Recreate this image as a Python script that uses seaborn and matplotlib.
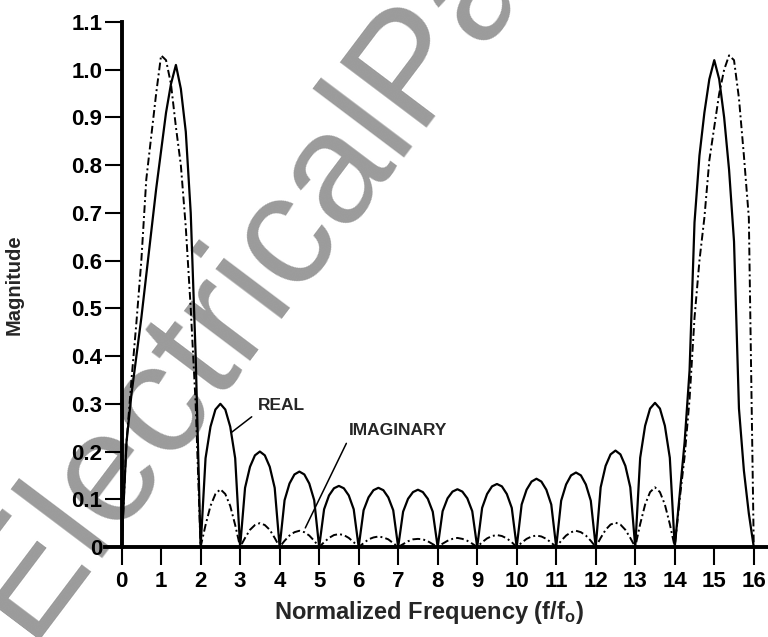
import numpy as np
import pandas as pd
import seaborn as sns
import matplotlib.pyplot as plt

sns.set_theme(style="ticks")
plt.rcParams['font.family'] = ['Liberation Sans', 'DejaVu Sans']
plt.rcParams['mathtext.fontset'] = 'custom'
plt.rcParams['mathtext.rm'] = 'Liberation Sans:bold'
plt.rcParams['mathtext.it'] = 'Liberation Sans:bold'
plt.rcParams['mathtext.bf'] = 'Liberation Sans:bold'

# sample positions (f/fo), every 1/8
freq = np.arange(0, 16.0625, 0.125)

# magnitudes, one row per unit of f/fo
real_mag = [
    0, 0.22, 0.32, 0.40, 0.48, 0.57, 0.66, 0.75,
    0.83, 0.91, 0.97, 1.01, 0.96, 0.87, 0.70, 0.40,
    0, 0.186, 0.252, 0.288, 0.300, 0.288, 0.252, 0.186,
    0, 0.124, 0.168, 0.192, 0.200, 0.192, 0.168, 0.124,
    0, 0.098, 0.133, 0.152, 0.158, 0.152, 0.133, 0.098,
    0, 0.079, 0.108, 0.123, 0.128, 0.123, 0.108, 0.079,
    0, 0.077, 0.104, 0.119, 0.124, 0.119, 0.104, 0.077,
    0, 0.074, 0.101, 0.115, 0.120, 0.115, 0.101, 0.074,
    0, 0.075, 0.102, 0.116, 0.121, 0.116, 0.102, 0.075,
    0, 0.082, 0.111, 0.127, 0.132, 0.127, 0.111, 0.082,
    0, 0.089, 0.120, 0.137, 0.143, 0.137, 0.120, 0.089,
    0, 0.097, 0.131, 0.150, 0.156, 0.150, 0.131, 0.097,
    0, 0.125, 0.170, 0.194, 0.202, 0.194, 0.170, 0.125,
    0, 0.187, 0.254, 0.290, 0.302, 0.290, 0.254, 0.187,
    0, 0.11, 0.22, 0.37, 0.68, 0.82, 0.91, 0.98,
    1.02, 0.98, 0.90, 0.79, 0.64, 0.29, 0.16, 0.07,
    0,
]

imag_mag = [
    0, 0.22, 0.35, 0.47, 0.60, 0.77, 0.86, 0.95,
    1.03, 1.02, 0.97, 0.88, 0.80, 0.67, 0.50, 0.30,
    0, 0.046, 0.086, 0.111, 0.121, 0.111, 0.086, 0.046,
    0, 0.019, 0.036, 0.046, 0.050, 0.046, 0.036, 0.019,
    0, 0.013, 0.024, 0.031, 0.034, 0.031, 0.024, 0.013,
    0, 0.010, 0.019, 0.025, 0.027, 0.025, 0.019, 0.010,
    0, 0.008, 0.016, 0.020, 0.022, 0.020, 0.016, 0.008,
    0, 0.006, 0.012, 0.016, 0.017, 0.016, 0.012, 0.006,
    0, 0.007, 0.013, 0.017, 0.019, 0.017, 0.013, 0.007,
    0, 0.010, 0.018, 0.023, 0.025, 0.023, 0.018, 0.010,
    0, 0.009, 0.017, 0.022, 0.024, 0.022, 0.017, 0.009,
    0, 0.013, 0.024, 0.031, 0.034, 0.031, 0.024, 0.013,
    0, 0.019, 0.036, 0.047, 0.051, 0.047, 0.036, 0.019,
    0, 0.048, 0.089, 0.115, 0.125, 0.115, 0.089, 0.048,
    0, 0.10, 0.19, 0.31, 0.48, 0.60, 0.69, 0.81,
    0.88, 0.95, 1.00, 1.03, 1.02, 0.94, 0.82, 0.69,
    0,
]

x_ticks = list(range(17))
y_ticks = [0, 0.1, 0.2, 0.3, 0.4, 0.5, 0.6, 0.7, 0.8, 0.9, 1.0, 1.1]
y_labels = ["0", "0.1", "0.2", "0.3", "0.4", "0.5", "0.6", "0.7", "0.8", "0.9", "1.0", "1.1"]

df = pd.DataFrame({"freq": freq, "Real": real_mag, "Imaginary": imag_mag})

fig = plt.figure(figsize=(7.68, 6.37), dpi=100)
# watermark behind the chart
fig.text(0.036, -0.004, "ElectricalPartManuals.com", rotation=53, rotation_mode="anchor",
         ha="left", va="baseline", fontsize=114, color="#9b9b9b", zorder=-1)

ax = fig.add_axes([0.1367, 0.1413, 0.8633, 0.8242])
ax.patch.set_alpha(0)

sns.lineplot(data=df, x="freq", y="Real", color="black", linewidth=1.6, ax=ax)
sns.lineplot(data=df, x="freq", y="Imaginary", color="black", linewidth=1.4,
             linestyle=(0, (4, 1.6, 1, 1.6)), ax=ax)

ax.set_xlim(-0.42, 16.36)
ax.set_ylim(0, 1.1)
sns.despine(ax=ax)
ax.spines["left"].set_position(("data", 0))
ax.spines["left"].set_linewidth(2.8)
ax.spines["bottom"].set_linewidth(2.8)
ax.spines["left"].set_color("black")
ax.spines["bottom"].set_color("black")

ax.set_xticks(x_ticks)
ax.set_xticklabels([str(t) for t in x_ticks], fontsize=16, fontweight="bold")
ax.set_yticks(y_ticks)
ax.set_yticklabels(y_labels, fontsize=16, fontweight="bold")
ax.tick_params(axis="x", direction="out", length=13, width=1.5, pad=4, colors="black")
ax.tick_params(axis="y", direction="out", length=12, width=1.5, pad=2, colors="black")

ax.set_xlabel("Normalized Frequency (f/f$_o$)", fontsize=17, fontweight="bold")
ax.xaxis.set_label_coords(0.488, -0.1)
ax.set_ylabel("Magnitude", fontsize=14.5, fontweight="bold")
ax.yaxis.set_label_coords(-0.122, 0.5)

ax.annotate("REAL", xy=(2.78, 0.24), xytext=(3.46, 0.296), fontsize=12.5, fontweight="bold",
            ha="left", va="center",
            arrowprops=dict(arrowstyle="-", color="black", lw=1.1, relpos=(0, 0.1), shrinkA=3, shrinkB=0))
ax.annotate("IMAGINARY", xy=(4.65, 0.04), xytext=(5.76, 0.245), fontsize=12.5, fontweight="bold",
            ha="left", va="center",
            arrowprops=dict(arrowstyle="-", color="black", lw=1.1, relpos=(0, 0), shrinkA=2, shrinkB=0))

fig.savefig("out.png", dpi=100)
